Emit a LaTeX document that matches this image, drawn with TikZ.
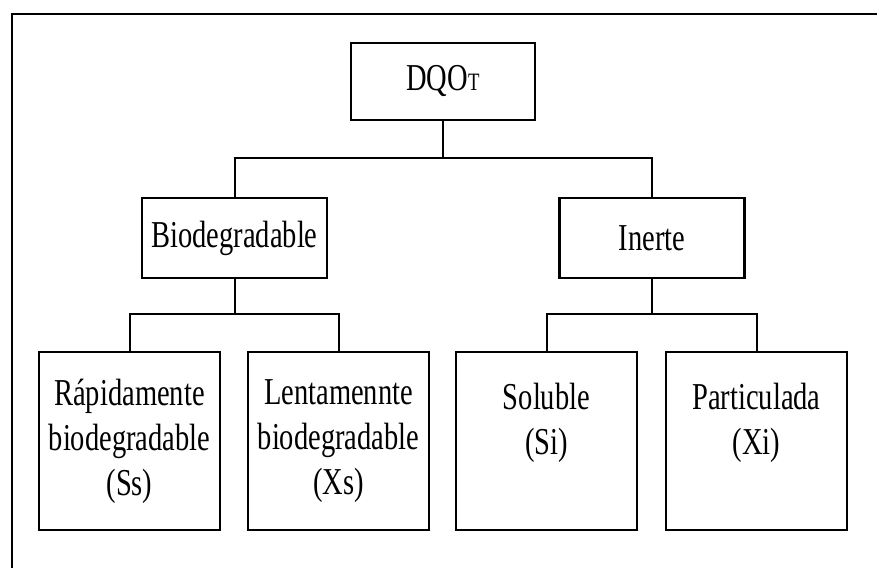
\documentclass[tikz,border=0pt]{standalone}
\usepackage{fontspec}
\newfontfamily\boxfont[FakeStretch=0.75]{Liberation Serif}
\begin{document}
\begin{tikzpicture}[x=1pt,y=-1pt,
  box/.style={draw, line width=2.6pt, inner sep=0pt, align=center,
    font=\boxfont\fontsize{38}{45}\selectfont},
  topbox/.style={box, minimum width=184pt, minimum height=77pt},
  midbox/.style={box, minimum width=185pt, minimum height=80pt},
  leafbox/.style={box, minimum width=181pt, minimum height=178pt},
  link/.style={line width=2pt},
  frame/.style={line width=2pt}]
\useasboundingbox[fill=white] (0,0) rectangle (877,567);
% outer frame, running past the page edge
\draw[frame] (12,580) -- (12,14) -- (890,14);

% boxes
\node[topbox] (dqo) at (443,81.5) {DQO{\fontsize{25}{25}\selectfont T}};
\node[midbox] (bio) at (234.5,238) {Biodegradable};
\node[midbox] (ine) at (652,238) {Inerte};
\node[leafbox] (rap) at (129.5,441) {Rápidamente\\biodegradable\\(Ss)};
\node[leafbox] (len) at (338.5,441) {Lentamennte\\biodegradable\\(Xs)};
\node[leafbox] (sol) at (546.5,441) {Soluble\\(Si)\\~};
\node[leafbox] (par) at (756.5,441) {Particulada\\(Xi)\\~};

% junction points
\coordinate (j0) at (443,158);
\coordinate (j1) at (234.5,314);
\coordinate (j2) at (652,314);

% connectors
\draw[link] (dqo.south) -- (j0);
\draw[link] (bio.north) |- (j0) -| (ine.north);
\draw[link] (bio.south) -- (j1);
\draw[link] (rap.north) |- (j1) -| (len.north);
\draw[link] (ine.south) -- (j2);
\draw[link] (sol.north) |- (j2) -| (par.north);
\end{tikzpicture}
\end{document}
